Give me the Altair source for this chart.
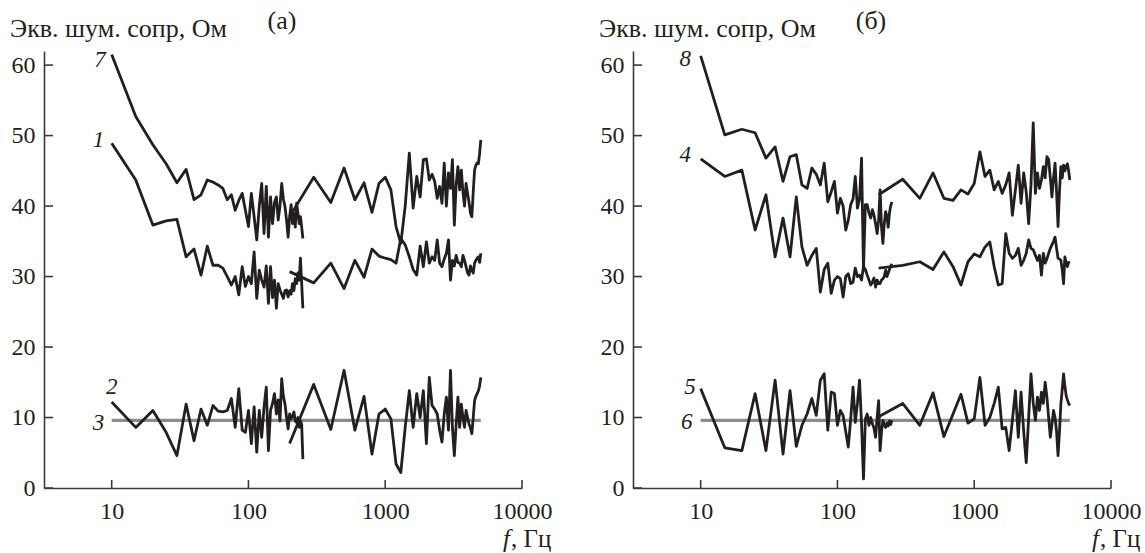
import altair as alt
import pandas as pd

# ---- measurement grids (Hz) ----
FREQ_LOW = [10, 15, 20, 25, 30, 35, 40, 45, 50, 55,
            60, 65, 70, 75, 80, 85, 90, 95, 100, 105,
            110, 115, 120, 125, 130, 135, 140, 145, 150, 155,
            160, 165, 170, 175, 180, 185, 190, 195, 200, 205,
            210, 215, 220, 225, 230, 235, 240, 245, 250]
FREQ_HIGH = [200, 300, 400, 500, 600, 700, 800, 900, 1000, 1100,
             1200, 1300, 1400, 1500, 1600, 1700, 1800, 1900, 2000, 2100,
             2200, 2300, 2400, 2500, 2600, 2700, 2800, 2900, 3000, 3100,
             3200, 3300, 3400, 3500, 3600, 3700, 3800, 3900, 4000, 4100,
             4200, 4300, 4400, 4500, 4600, 4700, 4800, 4900, 5000]

# ---- panel (а) ----
C7_LOW = [61.5, 52.7, 48.7, 46.0, 43.3, 45.2, 40.9, 41.6, 43.7, 43.4,
          43.0, 42.5, 40.9, 41.6, 39.4, 40.8, 41.8, 39.4, 37.1, 41.8,
          38.5, 35.2, 40.0, 43.2, 36.1, 42.8, 35.6, 41.3, 37.5, 40.5,
          41.3, 38.0, 40.0, 43.2, 41.0, 39.9, 38.0, 35.6, 38.5, 40.2,
          37.5, 39.0, 37.0, 40.4, 39.0, 37.5, 38.5, 37.0, 35.4]
C7_HIGH = [38.5, 44.1, 40.5, 45.4, 40.9, 43.3, 39.1, 43.2, 44.1, 42.3,
           37.1, 34.7, 40.0, 47.5, 39.7, 44.2, 41.3, 46.6, 46.7, 43.7,
           44.5, 43.5, 41.1, 42.8, 40.4, 46.1, 40.0, 44.7, 42.5, 46.6,
           37.3, 43.0, 45.6, 42.3, 45.1, 42.0, 40.0, 43.2, 41.8, 40.5,
           39.0, 38.5, 42.0, 45.1, 45.8, 46.1, 46.0, 47.5, 49.4]
C1_LOW = [48.9, 43.7, 37.3, 37.9, 38.1, 32.8, 33.9, 30.2, 34.3, 31.6,
          31.6, 31.2, 30.0, 28.8, 30.0, 27.4, 31.4, 28.6, 30.0, 29.0,
          33.5, 26.9, 30.9, 29.5, 28.5, 31.5, 26.2, 31.4, 27.0, 29.5,
          25.5, 29.0, 28.1, 27.5, 26.9, 28.0, 28.1, 27.1, 28.0, 27.5,
          29.0, 28.0, 29.7, 29.0, 30.5, 29.5, 32.6, 29.0, 25.5]
C1_HIGH = [30.7, 29.1, 31.9, 28.3, 32.3, 29.9, 33.9, 32.9, 32.6, 32.4,
           31.9, 35.4, 34.5, 32.8, 31.0, 30.2, 34.3, 31.4, 34.9, 31.9,
           32.8, 32.3, 35.2, 31.9, 31.4, 32.5, 33.3, 35.2, 29.5, 32.3,
           31.5, 33.0, 32.0, 31.9, 31.4, 33.0, 32.3, 31.4, 30.5, 30.2,
           31.5, 30.9, 30.5, 31.9, 32.3, 32.6, 32.8, 32.0, 33.3]
C2_LOW = [12.2, 8.6, 11.0, 7.9, 4.6, 11.9, 6.7, 11.2, 8.9, 11.7,
          10.9, 10.8, 11.0, 12.7, 8.6, 14.1, 8.2, 7.9, 11.0, 6.3,
          11.5, 5.1, 11.0, 7.2, 11.5, 14.3, 5.3, 11.0, 12.0, 13.4,
          10.5, 12.5, 9.5, 15.5, 13.0, 11.9, 10.0, 8.4, 10.5, 9.8,
          10.2, 10.8, 9.5, 9.3, 10.0, 8.6, 9.5, 9.0, 4.1]
C2_HIGH = [6.3, 14.7, 8.3, 16.7, 8.2, 13.0, 4.8, 10.5, 11.2, 9.8,
           3.4, 2.2, 8.6, 13.8, 8.6, 13.4, 10.0, 13.8, 6.3, 15.7,
           11.7, 11.2, 10.5, 8.2, 6.5, 10.5, 12.9, 8.2, 16.7, 8.6,
           4.6, 9.0, 12.9, 8.6, 11.9, 10.0, 8.6, 11.0, 10.0, 9.1,
           8.5, 7.7, 10.0, 12.4, 13.0, 13.4, 13.8, 14.5, 15.7]

# ---- panel (б) ----
C8_LOW = [61.3, 50.1, 50.9, 50.4, 46.8, 48.4, 43.5, 47.0, 47.3, 43.0,
          42.5, 45.4, 44.5, 43.0, 46.1, 40.6, 42.0, 43.5, 39.0, 41.1,
          40.0, 36.6, 38.0, 40.2, 41.0, 44.2, 39.7, 41.0, 46.8, 31.0,
          40.2, 40.2, 39.0, 38.3, 39.5, 38.7, 37.5, 36.1, 38.0, 42.3,
          37.0, 34.7, 37.5, 39.2, 38.5, 37.0, 39.0, 40.0, 40.6]
C8_HIGH = [41.6, 43.8, 41.1, 44.7, 41.1, 40.8, 42.3, 41.7, 43.2, 47.7,
           44.2, 45.1, 42.3, 43.5, 41.8, 43.0, 44.7, 38.7, 42.3, 45.8,
           40.4, 44.7, 42.0, 37.5, 43.0, 51.8, 41.8, 44.7, 42.5, 43.7,
           45.6, 44.0, 47.0, 46.6, 44.0, 41.3, 44.0, 46.1, 42.0, 37.1,
           42.0, 45.6, 44.0, 45.8, 45.0, 45.6, 46.0, 45.0, 43.7]
C4_LOW = [46.7, 44.2, 45.1, 36.6, 41.6, 32.8, 38.3, 32.8, 41.3, 34.2,
          31.6, 33.0, 34.0, 27.8, 31.0, 31.9, 27.6, 29.5, 30.0, 29.7,
          27.1, 30.0, 30.4, 29.0, 29.2, 31.2, 30.0, 30.2, 29.5, 31.4,
          31.0, 30.2, 29.5, 28.8, 29.2, 29.8, 28.5, 29.5, 29.0, 29.0,
          29.5, 29.7, 30.0, 30.9, 30.0, 30.5, 31.0, 31.4, 31.8]
C4_HIGH = [31.2, 31.6, 32.1, 31.0, 33.5, 31.4, 28.8, 32.1, 33.2, 32.8,
           34.2, 34.9, 31.4, 28.8, 29.0, 36.1, 33.3, 32.6, 33.0, 34.0,
           31.6, 32.3, 33.3, 35.2, 34.0, 33.8, 33.0, 32.3, 33.0, 30.2,
           33.3, 31.9, 32.5, 33.3, 34.0, 34.5, 35.0, 35.6, 34.0, 32.6,
           32.5, 32.3, 31.0, 29.0, 32.8, 32.0, 31.4, 32.0, 31.9]
C5_LOW = [14.1, 5.7, 5.3, 13.4, 5.3, 15.3, 4.8, 13.8, 5.9, 8.9,
          10.5, 12.7, 10.3, 15.3, 16.2, 8.2, 13.6, 13.4, 8.9, 11.0,
          10.3, 8.0, 5.8, 9.8, 14.3, 9.3, 12.0, 15.3, 9.1, 1.3,
          9.8, 10.5, 8.9, 10.0, 9.1, 8.5, 7.2, 10.0, 12.4, 5.3,
          8.0, 9.6, 9.0, 8.6, 9.2, 8.8, 9.5, 9.0, 9.6]
C5_HIGH = [10.1, 12.0, 8.9, 13.5, 7.3, 10.5, 13.3, 9.2, 9.8, 15.7,
           8.9, 10.0, 12.0, 14.3, 8.4, 8.6, 5.3, 9.6, 13.8, 7.2,
           13.6, 8.0, 3.6, 10.0, 16.2, 12.0, 9.6, 12.9, 11.0, 13.6,
           12.0, 15.0, 12.9, 10.0, 7.2, 9.0, 11.0, 10.0, 8.0, 4.6,
           8.0, 11.9, 14.0, 16.2, 14.5, 13.1, 12.5, 12.0, 11.7]

# curves 3 and 6 (constant reference level)
REF_FREQ = [10, 5000]
REF_LEVEL = [9.6, 9.6]

# curve number labels
LABELS_A = ["7", "1", "2", "3"]
LABELS_A_F = [8.2, 8.0, 10.0, 8.0]
LABELS_A_V = [59.8, 48.4, 13.4, 8.2]
LABELS_B = ["8", "4", "5", "6"]
LABELS_B_F = [7.7, 7.7, 8.35, 7.9]
LABELS_B_V = [59.9, 46.3, 13.4, 8.3]

X_TICKS = [10, 100, 1000, 10000]
Y_TICKS = [0, 10, 20, 30, 40, 50, 60]
Y_TITLE = "Экв. шум. сопр, Ом"
X_UNIT = ", Гц"

for arr in [C7_LOW, C1_LOW, C2_LOW, C8_LOW, C4_LOW, C5_LOW]:
    assert len(arr) == len(FREQ_LOW), len(arr)
for arr in [C7_HIGH, C1_HIGH, C2_HIGH, C8_HIGH, C4_HIGH, C5_HIGH]:
    assert len(arr) == len(FREQ_HIGH), len(arr)

FONT = "Liberation Serif"
INK = "#231f20"
AXIS_INK = "#3a3a3a"
W, H = 478, 437

xs = alt.Scale(type="log", domain=[3.2, 10000], nice=False)
ys = alt.Scale(domain=[0, 62], nice=False)

XAXIS = alt.Axis(values=X_TICKS, format="d", title=None, ticks=False, tickSize=0,
                 grid=False, labelPadding=11, labelFont=FONT, labelFontSize=24,
                 labelColor=INK, domainColor=AXIS_INK, domainWidth=1.6,
                 labelFlush=False, labelOverlap=False)
YAXIS = alt.Axis(values=Y_TICKS, format="d", title=None, ticks=False, tickSize=0,
                 grid=False, labelPadding=9, labelFont=FONT, labelFontSize=24,
                 labelColor=INK, domainColor=AXIS_INK, domainWidth=1.6,
                 labelFlush=False, labelOverlap=False)


def X(field):
    return alt.X(field, scale=xs, axis=XAXIS)


def Y(field):
    return alt.Y(field, scale=ys, axis=YAXIS)


def build_panel(curves, lab_t, lab_f, lab_v, tag, anchor):
    rows = []
    for name, lo, hi in curves:
        rows += [{"f": f, "v": v, "k": name + "a"} for f, v in zip(FREQ_LOW, lo)]
        rows += [{"f": f, "v": v, "k": name + "b"} for f, v in zip(FREQ_HIGH, hi)]
    df = pd.DataFrame(rows)

    ref = alt.Chart(pd.DataFrame({"f": REF_FREQ, "v": REF_LEVEL})).mark_line(
        color="#8c8c8c", strokeWidth=3.4
    ).encode(x=X("f:Q"), y=Y("v:Q"))

    lines = alt.Chart(df).mark_line(color=INK, strokeWidth=2.8, strokeJoin="round").encode(
        x=X("f:Q"), y=Y("v:Q"), detail="k:N"
    )

    yt = alt.Chart(pd.DataFrame({"v": Y_TICKS})).mark_rule(color=AXIS_INK, strokeWidth=1.6).encode(
        y=Y("v:Q"), x=alt.value(0), x2=alt.value(9)
    )
    xt = alt.Chart(pd.DataFrame({"f": X_TICKS})).mark_rule(color=AXIS_INK, strokeWidth=1.6).encode(
        x=X("f:Q"), y=alt.value(H), y2=alt.value(H - 8)
    )

    labs = alt.Chart(pd.DataFrame({"t": lab_t, "f": lab_f, "v": lab_v})).mark_text(
        font=FONT, fontStyle="italic", fontSize=23, color=INK, align="center", baseline="alphabetic"
    ).encode(x=X("f:Q"), y=Y("v:Q"), text="t:N")

    title = alt.Chart(pd.DataFrame({"t": [Y_TITLE]})).mark_text(
        font=FONT, fontSize=26, color=INK, align="left", baseline="alphabetic"
    ).encode(text="t:N", x=alt.value(-34), y=alt.value(-14))

    tagc = alt.Chart(pd.DataFrame({"t": [tag]})).mark_text(
        font=FONT, fontSize=26, color=INK, align="center", baseline="alphabetic"
    ).encode(text="t:N", x=alt.value(238), y=alt.value(-22))

    fsym = alt.Chart(pd.DataFrame({"t": ["f"]})).mark_text(
        font=FONT, fontStyle="italic", fontSize=25, color=INK, align="left", baseline="alphabetic"
    ).encode(text="t:N", x=alt.value(459), y=alt.value(496))
    unit = alt.Chart(pd.DataFrame({"t": [X_UNIT]})).mark_text(
        font=FONT, fontSize=25, color=INK, align="left", baseline="alphabetic"
    ).encode(text="t:N", x=alt.value(467), y=alt.value(496))

    layers = [ref, lines, yt, xt, labs, title, tagc, fsym, unit]
    if anchor:
        # invisible layout anchor fixing the top-left corner of the drawing
        corner = alt.Chart(pd.DataFrame({"t": [0]})).mark_rule(strokeOpacity=0, opacity=0).encode(
            x=alt.value(-44), x2=alt.value(-44), y=alt.value(-51), y2=alt.value(-50)
        )
        layers.append(corner)
    return alt.layer(*layers).properties(width=W, height=H)


left = build_panel([("7", C7_LOW, C7_HIGH), ("1", C1_LOW, C1_HIGH), ("2", C2_LOW, C2_HIGH)],
                   LABELS_A, LABELS_A_F, LABELS_A_V, "(а)", True)
right = build_panel([("8", C8_LOW, C8_HIGH), ("4", C4_LOW, C4_HIGH), ("5", C5_LOW, C5_HIGH)],
                    LABELS_B, LABELS_B_F, LABELS_B_V, "(б)", False)

chart = alt.hconcat(left, right, spacing=111, bounds="flush").properties(
    padding={"left": 0, "top": 0, "right": 0, "bottom": 0},
    background="white",
).configure_view(strokeWidth=0)

chart.save("out.html", embed_options={"renderer": "svg", "actions": False})
